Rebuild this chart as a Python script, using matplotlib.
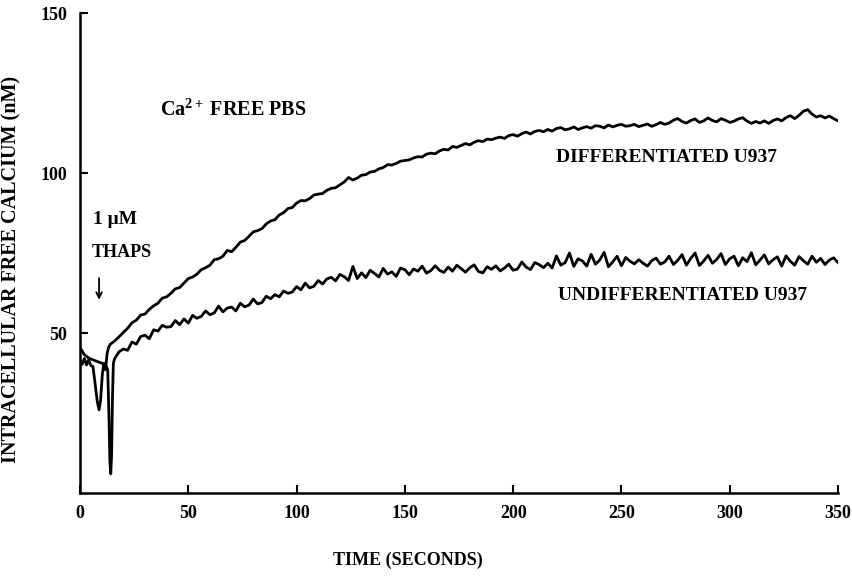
import numpy as np
import matplotlib
matplotlib.use('Agg')
import matplotlib.pyplot as plt

plt.rcParams['font.family'] = ['Liberation Serif', 'DejaVu Serif']
plt.rcParams['font.weight'] = 'bold'
plt.rcParams['mathtext.fontset'] = 'custom'
plt.rcParams['mathtext.rm'] = 'Liberation Serif:bold'
plt.rcParams['mathtext.it'] = 'Liberation Serif:bold:italic'

# --- traces (time in s, [Ca2+]i in nM) ---
# first seconds around the thapsigargin addition
diff_onset_t = [0, 1, 2, 3, 4, 5, 6, 7, 8, 8.8, 9.5, 10.3, 11, 11.8, 12.5, 13.2, 14]
diff_onset_v = [41.5, 40.2, 42.0, 40.0, 41.6, 39.8, 39.5, 34.0, 28.5, 26.0, 29.0,
                37.0, 40.5, 38.5, 43.5, 45.5, 46.5]
undiff_onset_t = [0, 2, 4, 6, 8, 10, 12, 12.8, 13.3, 13.8, 14.2, 14.6, 15.0, 15.4]
undiff_onset_v = [45.5, 43.2, 42.2, 41.6, 41.1, 40.6, 39.8, 38.5, 26.0, 10.0, 6.0,
                  12.0, 30.0, 40.5]

# rest of the recording, one reading every 2 s from t = 16 s
t_rest_start = 16
t_rest_step = 2
diff_rest = [
    47.5, 48.8, 50.2, 51.5, 53.2, 54.0, 55.6, 55.9, 57.4, 58.5,
    59.3, 60.9, 61.3, 62.4, 63.8, 64.2, 65.6, 67.0, 67.5, 68.4,
    69.8, 70.4, 71.2, 72.9, 73.2, 74.0, 75.8, 75.4, 76.8, 78.4,
    78.9, 80.2, 81.6, 82.0, 82.6, 84.1, 85.0, 85.4, 86.9, 87.6,
    88.9, 89.2, 90.6, 91.4, 91.3, 92.0, 93.1, 93.4, 93.6, 94.6,
    95.2, 95.4, 96.3, 97.2, 98.6, 97.8, 98.4, 99.3, 99.5, 100.3,
    100.5, 101.3, 101.7, 102.6, 102.5, 103.0, 103.7, 103.9, 104.1, 104.7,
    105.1, 105.0, 105.9, 106.2, 106.0, 106.9, 107.4, 107.2, 108.3, 108.0,
    108.6, 109.2, 108.8, 109.6, 110.1, 109.8, 110.6, 110.4, 110.9, 111.2,
    110.8, 111.7, 112.0, 111.5, 112.3, 112.8, 112.2, 113.0, 113.3, 112.9,
    113.6, 113.1, 113.9, 114.2, 113.5, 113.8, 114.4, 113.6, 114.1, 114.5,
    114.0, 114.8, 114.6, 114.1, 115.0, 114.4, 114.9, 115.2, 114.6, 114.8,
    115.2, 114.5, 114.9, 115.3, 114.6, 115.1, 115.8, 115.2, 115.6, 116.5,
    117.0, 116.1, 115.6, 116.4, 116.9, 115.8, 116.3, 117.2, 116.4, 116.0,
    117.0, 116.5, 115.8, 116.2, 116.9, 117.3, 116.2, 115.5, 116.1, 115.6,
    116.3, 115.5, 116.4, 116.9, 116.3, 117.3, 117.9, 117.0, 118.0, 119.3,
    119.8, 118.4, 117.5, 117.9, 117.2, 117.8, 117.0, 116.3,
]
undiff_rest = [
    42.0, 44.1, 45.0, 44.6, 47.2, 46.5, 48.9, 49.3, 48.2, 51.0,
    50.6, 52.4, 51.8, 52.0, 53.9, 52.6, 54.4, 53.1, 55.5, 54.6,
    55.2, 56.9, 55.7, 56.3, 58.4, 56.6, 57.8, 58.1, 56.9, 59.3,
    58.2, 58.7, 60.6, 59.1, 59.5, 61.5, 60.7, 62.0, 61.3, 63.1,
    62.4, 62.8, 64.5, 63.5, 65.6, 64.1, 64.6, 66.4, 65.3, 66.9,
    67.4, 66.3, 68.3, 67.6, 66.4, 70.8, 67.0, 68.8, 67.3, 69.6,
    68.6, 67.5, 70.2, 68.4, 69.1, 67.7, 70.3, 69.8, 68.2, 70.0,
    69.3, 70.9, 68.7, 69.5, 71.0, 69.6, 68.9, 70.6, 69.3, 71.2,
    70.1, 69.0, 70.4, 71.3, 69.2, 68.8, 70.7, 69.9, 71.0, 69.4,
    70.3, 71.5, 69.6, 70.0, 72.2, 70.6, 69.8, 72.0, 71.4, 70.4,
    71.8, 70.3, 74.1, 71.2, 72.0, 75.0, 70.8, 73.2, 72.5, 70.9,
    74.6, 71.5, 72.8, 75.2, 70.7, 72.2, 74.0, 71.0, 73.6, 72.4,
    71.6, 72.9, 71.8, 70.9, 72.6, 73.4, 71.5, 72.2, 74.0, 71.4,
    72.7, 74.5, 71.2, 73.3, 75.0, 71.1, 72.5, 74.3, 71.8, 73.0,
    74.8, 71.4, 73.2, 74.0, 71.0, 73.5, 72.3, 75.1, 71.3, 72.8,
    74.4, 71.6, 72.9, 73.8, 70.9, 74.1, 72.4, 71.2, 73.9, 72.6,
    71.5, 74.0, 72.1, 73.3, 71.4, 72.8, 73.5, 72.0,
]

x_ticks = [0, 50, 100, 150, 200, 250, 300, 350]
y_ticks = [50, 100, 150]


def full_trace(onset_t, onset_v, rest):
    t_rest = t_rest_start + t_rest_step * np.arange(len(rest))
    return np.concatenate([onset_t, t_rest]), np.concatenate([onset_v, rest])


fig = plt.figure(figsize=(8.52, 5.82), dpi=100)
ax = fig.add_axes([80 / 852, 1 - 493 / 582, 758 / 852, 480 / 582])

t_d, v_d = full_trace(diff_onset_t, diff_onset_v, diff_rest)
t_u, v_u = full_trace(undiff_onset_t, undiff_onset_v, undiff_rest)
ax.plot(t_d, v_d, color='black', lw=2.0, solid_joinstyle='round')
ax.plot(t_u, v_u, color='black', lw=2.0, solid_joinstyle='round')

ax.set_xlim(0, 350)
ax.set_ylim(0, 150)
ax.set_xticks(x_ticks)
ax.set_yticks(y_ticks)
ax.tick_params(direction='in', length=6, width=1.5, labelsize=13, pad=9)
for lab in ax.get_xticklabels() + ax.get_yticklabels():
    lab.set_fontweight('bold')

for side in ['top', 'right']:
    ax.spines[side].set_visible(False)
for side in ['left', 'bottom']:
    ax.spines[side].set_linewidth(1.8)

ax.set_xlabel('TIME (SECONDS)', fontsize=13, fontweight='bold')
ax.xaxis.set_label_coords(0.433, -0.123)
ax.set_ylabel('INTRACELLULAR FREE CALCIUM (nM)', fontsize=14.5, fontweight='bold')
ax.yaxis.set_label_coords(-0.077, 0.465)

ax.text(37, 119.5, 'Ca$^{\\mathrm{2+}}$ FREE PBS', fontsize=14.5, fontweight='bold', va='center')
ax.text(220, 105, 'DIFFERENTIATED U937', fontsize=14, fontweight='bold', va='center')
ax.text(220.5, 61.7, 'UNDIFFERENTIATED U937', fontsize=14, fontweight='bold', va='center')
ax.text(6, 85.5, '1 μM', fontsize=14, fontweight='bold', va='center')
ax.text(5.5, 75.3, 'THAPS', fontsize=13, fontweight='bold', va='center')
ax.annotate('', xy=(8.8, 59.5), xytext=(8.8, 68),
            arrowprops=dict(arrowstyle='->', color='black', lw=1.3))

fig.savefig('out.png', dpi=100)
